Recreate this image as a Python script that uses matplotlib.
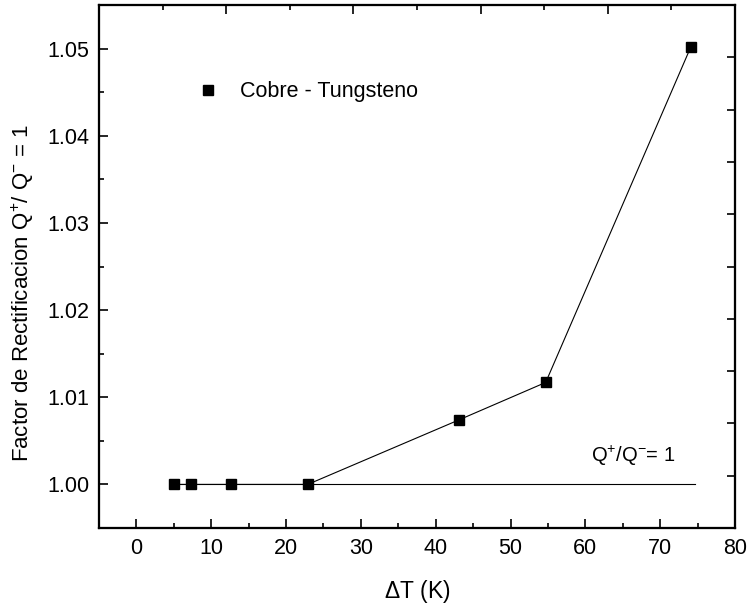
import matplotlib
matplotlib.use("Agg")
import matplotlib.pyplot as plt
from matplotlib.lines import Line2D
from matplotlib.ticker import MultipleLocator, FormatStrFormatter

plt.rcParams['font.family'] = ['Liberation Sans', 'DejaVu Sans']
plt.rcParams['mathtext.fontset'] = 'custom'
plt.rcParams['mathtext.rm'] = 'Liberation Sans'
plt.rcParams['mathtext.it'] = 'Liberation Sans'
plt.rcParams['mathtext.default'] = 'regular'

# Data
delta_t = [5.0, 7.3, 12.7, 22.9, 43.1, 54.7, 74.1]
factor = [1.0000, 1.0000, 1.0000, 1.0000, 1.0074, 1.0117, 1.0502]
ref_x = [5.0, 74.7]
ref_y = [1.0, 1.0]
series_label = "Cobre - Tungsteno"
ref_label = r"Q$^{+}$/Q$^{-}$= 1"
xlabel = r"$\Delta$T (K)"
ylabel = r"Factor de Rectificacion Q$^{+}$/ Q$^{-}$ = 1"

fig = plt.figure(figsize=(7.51, 6.07), dpi=100)
ax = fig.add_axes([99/751, 1-528/607, 636/751, 523/607])

ax.plot(ref_x, ref_y, color='black', lw=0.8)
ax.plot(delta_t, factor, color='black', lw=0.8, marker='s', markersize=7.2,
        markerfacecolor='black', markeredgecolor='black')

ax.set_xlim(-5, 80)
ax.set_ylim(0.995, 1.055)
ax.xaxis.set_major_locator(MultipleLocator(10))
ax.xaxis.set_minor_locator(MultipleLocator(5))
ax.yaxis.set_major_locator(MultipleLocator(0.01))
ax.yaxis.set_minor_locator(MultipleLocator(0.005))
ax.yaxis.set_major_formatter(FormatStrFormatter('%.2f'))

for sp in ax.spines.values():
    sp.set_linewidth(1.5)
ax.tick_params(which='major', direction='in', length=6.5, width=1.2, labelsize=15.5, pad=7)
ax.tick_params(which='minor', direction='in', length=3.5, width=1.2)

# top axis ticks (independent divisions)
axt = ax.twiny()
axt.set_xlim(0, 10)
axt.set_xticks([2, 4, 6, 8])
axt.set_xticks([1, 3, 5, 7, 9], minor=True)
axt.tick_params(which='major', direction='in', length=6.5, width=1.2, labeltop=False)
axt.tick_params(which='minor', direction='in', length=3.5, width=1.2)

# right axis ticks
axr = ax.twinx()
axr.set_ylim(0, 10)
axr.set_yticks([1, 2, 3, 4, 5, 6, 7, 8, 9])
axr.tick_params(which='major', direction='in', length=5.5, width=1.2, labelright=False)

for a in (axt, axr):
    for sp in a.spines.values():
        sp.set_linewidth(1.5)

ax.set_xlabel(xlabel, fontsize=16.5, labelpad=14)
ax.set_ylabel(ylabel, fontsize=16)
ax.yaxis.set_label_coords(-0.099, 0.45)

handle = Line2D([], [], color='black', marker='s', linestyle='none', markersize=7.2)
ax.legend([handle], [series_label], loc='center left', bbox_to_anchor=(0.155, 0.834),
          frameon=False, fontsize=15.5, handlelength=1.0, handletextpad=0.95,
          borderpad=0, borderaxespad=0, numpoints=1)

ax.text(0.774, 0.138, ref_label, transform=ax.transAxes, fontsize=14.5, va='center')

fig.savefig("out.png", dpi=100)
